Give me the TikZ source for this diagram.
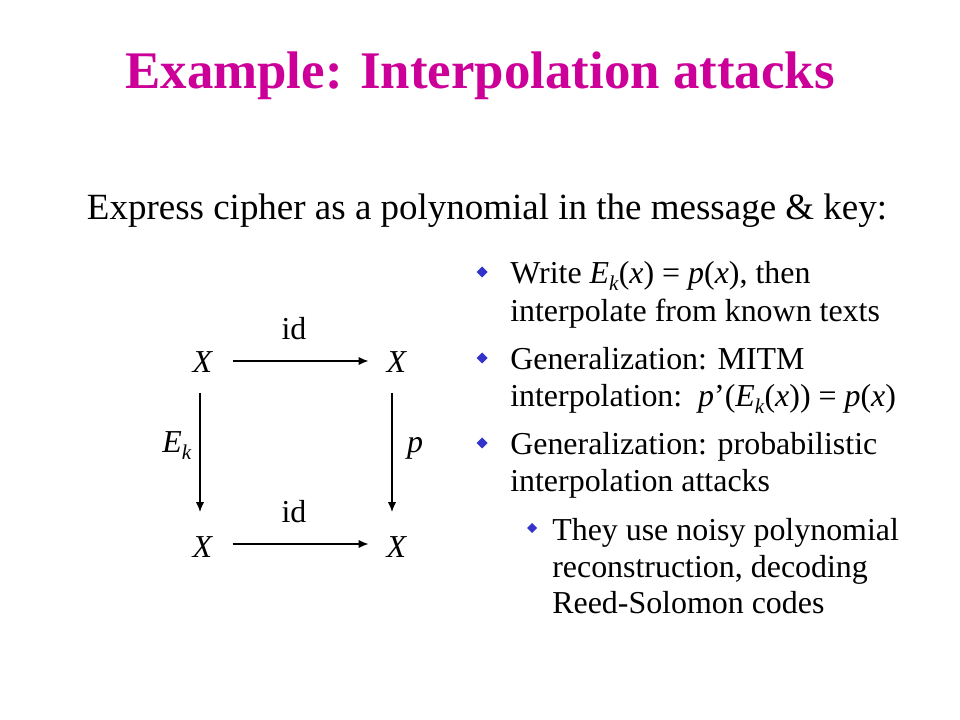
\documentclass[tikz,border=0pt]{standalone}
\usepackage{fontspec}
\setmainfont{Liberation Serif}
\usetikzlibrary{arrows.meta,calc}
\definecolor{titlemag}{HTML}{CC0099}
\definecolor{bulletblue}{HTML}{3333CC}
\newcommand{\Ek}{\textit{E}\raisebox{-0.2em}{\fontsize{15}{15}\selectfont\textit{k}}}
\tikzset{
  titletext/.style={anchor=base, font=\fontsize{37.6}{44}\selectfont\bfseries, text=titlemag, inner sep=0},
  subtext/.style={anchor=base, font=\fontsize{26.3}{30}\selectfont, inner sep=0},
  linetext/.style={anchor=base west, font=\fontsize{22.7}{26}\selectfont, inner sep=0},
  dtext/.style={anchor=base, font=\fontsize{22.7}{26}\selectfont, inner sep=0},
  bulfill/.style={fill=bulletblue},
  arr/.style={line width=0.8pt, -{Latex[length=7pt,width=5.8pt]}}
}
\begin{document}
\begin{tikzpicture}[x=0.025cm,y=-0.025cm]
\useasboundingbox[fill=white] (0,0) rectangle (960,720);
\node[titletext] (title) at (480,89) {Example: Interpolation attacks};
\node[subtext] (sub) at (487,220) {Express cipher as a polynomial in the message \& key:};
% diagram
\node[dtext] (xa) at (203,373) {\textit{X}};
\node[dtext] (xb) at (397,373) {\textit{X}};
\node[dtext] (xc) at (203,557) {\textit{X}};
\node[dtext] (xd) at (397,557) {\textit{X}};
\node[dtext] (ida) at (294,340) {id};
\node[dtext] (idb) at (294,523) {id};
\node[linetext] (ek) at (162,453) {\Ek};
\node[dtext] (pp) at (415,453) {\textit{p}};
\draw[arr] ($(xa.base east)+(19,-12)$) -- ($(xb.base west)+(-18,-12)$);
\draw[arr] ($(xc.base east)+(19,-13)$) -- ($(xd.base west)+(-18,-13)$);
\draw[arr] ($(xa.base)+(-3,20)$) -- ($(xc.base)+(-3,-45)$);
\draw[arr] ($(xb.base)+(-5,20)$) -- ($(xd.base)+(-5,-45)$);
% bullets
\fill[bulfill] (482,266.5) -- (487.5,272) -- (482,277.5) -- (476.5,272) -- cycle;
\fill[bulfill] (482,352.5) -- (487.5,358) -- (482,363.5) -- (476.5,358) -- cycle;
\fill[bulfill] (482,437.5) -- (487.5,443) -- (482,448.5) -- (476.5,443) -- cycle;
\fill[bulfill] (532,523) -- (537,528) -- (532,533) -- (527,528) -- cycle;
\node[linetext] (l1) at (510,284) {Write \Ek(\textit{x}) = \textit{p}(\textit{x}), then};
\node[linetext] (l2) at (510,322) {interpolate from known texts};
\node[linetext] (l3) at (510,370) {Generalization: MITM};
\node[linetext] (l4) at (510,407) {interpolation:\ \ \textit{p}’(\Ek(\textit{x})) = \textit{p}(\textit{x})};
\node[linetext] (l5) at (510,455) {Generalization: probabilistic};
\node[linetext] (l6) at (510,492) {interpolation attacks};
\node[linetext] (l7) at (552,540) {They use noisy polynomial};
\node[linetext] (l8) at (552,577) {reconstruction, decoding};
\node[linetext] (l9) at (552,613) {Reed-Solomon codes};
\end{tikzpicture}
\end{document}
